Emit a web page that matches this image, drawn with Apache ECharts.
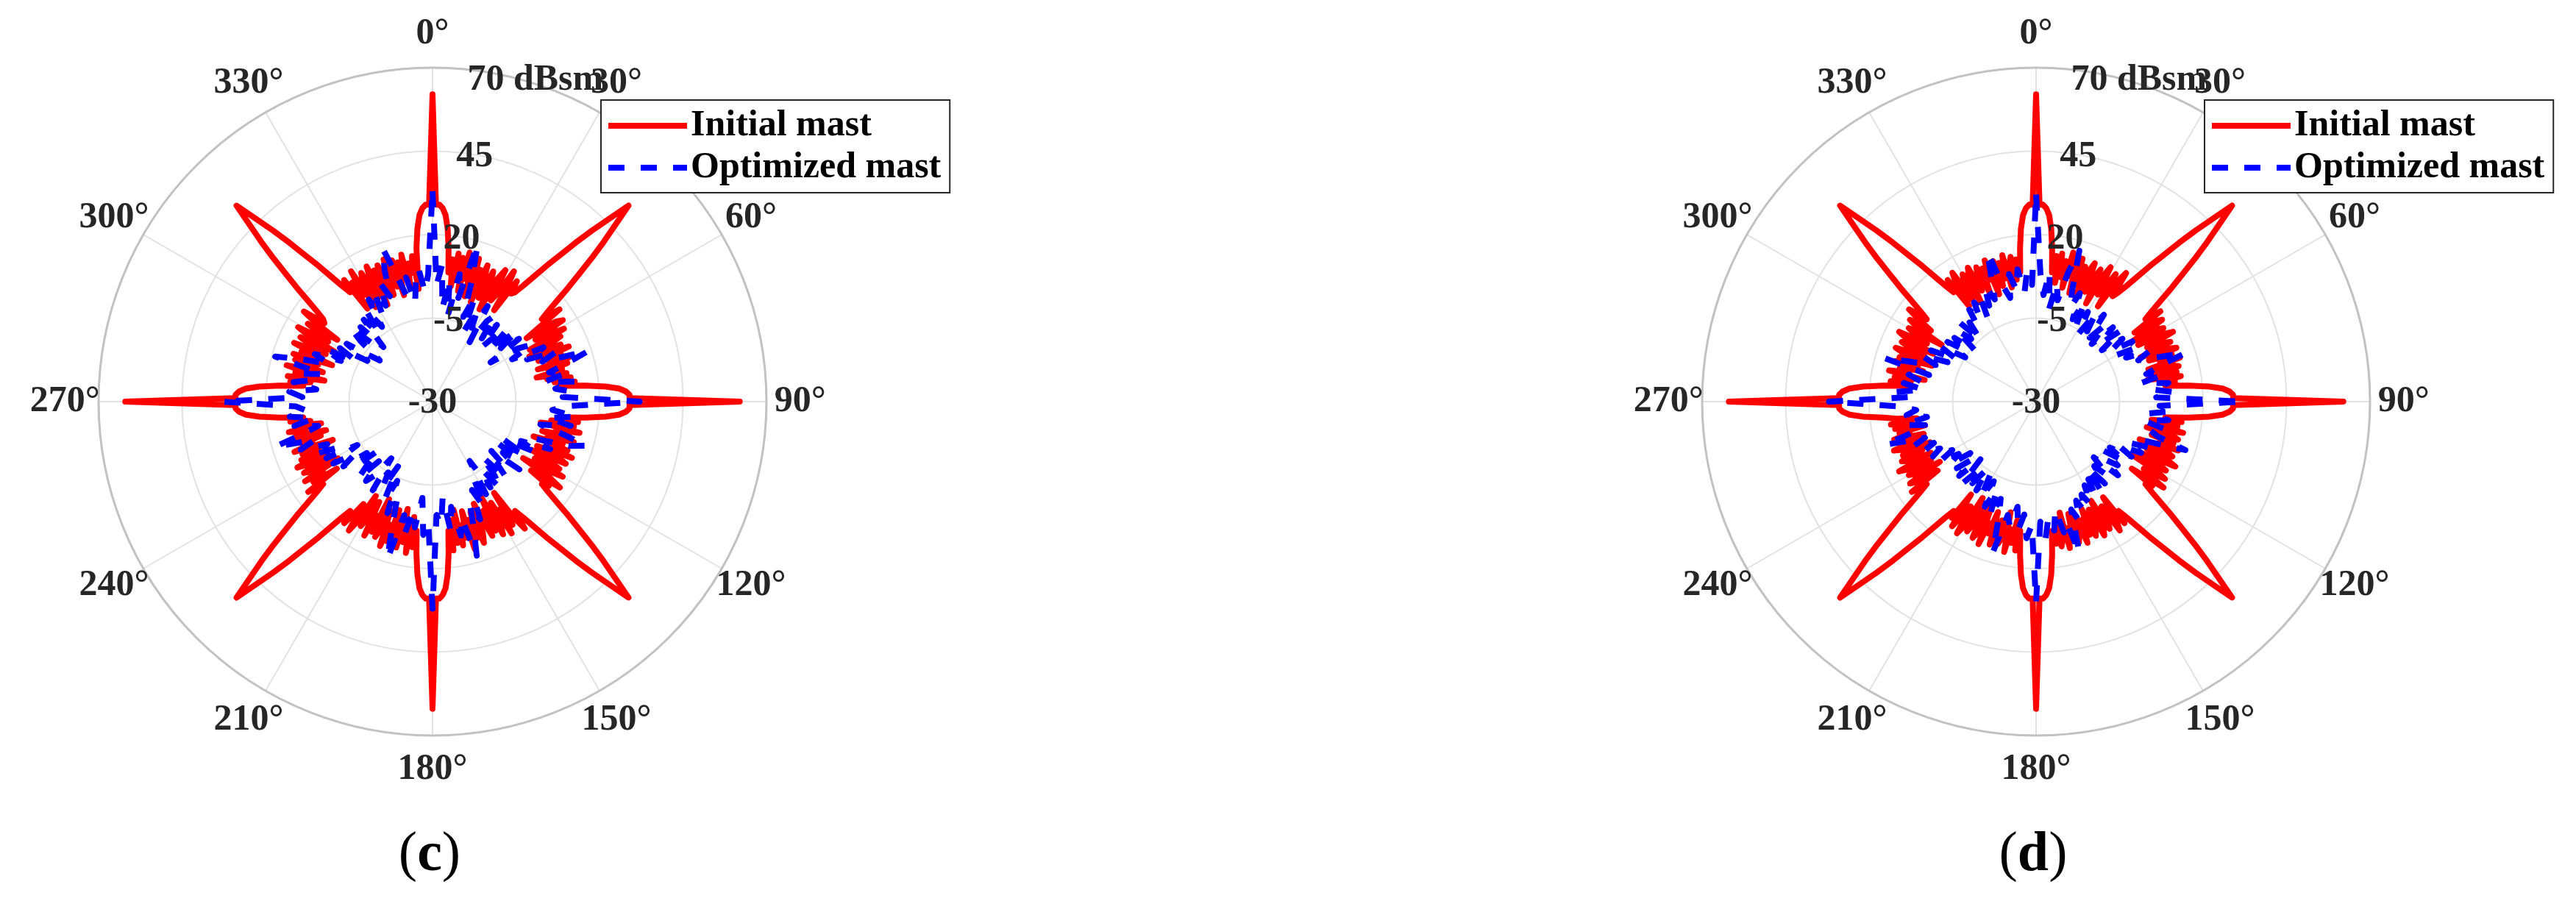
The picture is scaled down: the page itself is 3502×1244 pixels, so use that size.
<!DOCTYPE html>
<html><head><meta charset="utf-8">
<script src="https://cdn.jsdelivr.net/npm/echarts@6/dist/echarts.min.js"></script>
<style>html,body{margin:0;padding:0;background:#fff}#chart{width:3502px;height:1244px}</style>
</head><body><div id="chart"></div>
<script>
// ---------- tick labels / categories ----------
const angleTicks = [0, 30, 60, 90, 120, 150, 180, 210, 240, 270, 300, 330];
const angleTickLabels = ['0°','30°','60°','90°','120°','150°','180°','210°','240°','270°','300°','330°'];
const radiusTicks = [-30, -5, 20, 45, 70];
const radiusTickLabels = ['-30', '-5', '20', '45', '70 dBsm'];
const seriesNames = ['Initial mast', 'Optimized mast'];
const panelLabels = ['c', 'd'];

// ---------- data (dBsm). Initial mast: one value per 1° from 0°; Optimized mast: one value per 2° from 0° ----------
const initialC = [
62,29,29,28,26,22,16,9,13,5, 15,7,14,4,16,8,13,3,15,6, 12,2,14,9,4,13,10,1,12,15, 5,8,16,11,3,14,10,11,14,18,
23,28,34,40,46,53,46,40,34,28, 23,18,14,11,17,10,4,14,16,6, 11,15,3,13,9,2,12,6,14,4, 11,7,13,3,12,6,10,2,11,5,
12,7,13,9,16,22,26,28,29,29,
62,29,29,28,26,22,16,9,14,6, 13,3,15,8,12,4,14,6,11,2, 13,7,15,4,11,14,3,9,13,5, 15,10,2,12,16,6,13,11,14,18,
23,28,34,40,46,53,46,40,34,28, 23,18,14,11,17,12,3,14,8,16, 5,12,15,2,13,6,14,9,3,12, 15,5,13,7,16,4,12,8,14,3,
13,6,15,9,16,22,26,28,29,29,
62,29,29,28,26,22,16,9,14,5, 16,8,13,3,15,7,12,4,14,9, 16,5,11,14,2,13,8,15,4,10, 13,3,12,16,7,11,15,11,14,18,
23,28,34,40,46,53,46,40,34,28, 23,18,14,11,16,5,13,9,15,3, 12,14,6,11,15,4,13,7,12,2, 14,8,11,5,13,3,12,9,14,4,
11,7,13,9,16,22,26,28,29,29,
62,29,29,28,26,22,16,9,13,7, 14,3,12,9,15,4,11,13,6,14, 2,12,8,15,5,10,14,3,12,16, 6,9,14,4,12,17,10,11,14,18,
23,28,34,40,46,53,46,40,34,28, 23,18,14,11,15,4,13,8,16,3, 12,14,5,11,15,2,13,7,14,9, 4,15,11,6,14,3,13,8,15,5,
12,9,14,4,16,22,26,28,29,29
];
const optimizedC = [
33,5,11,-2,7,-4,9,2,19,8,-3,4,-7,1,-5,3,-9,-1,2,-6,0,-8,-2,1,-7,3,-4,2,-9,0,4,-3,7,1,10,5,19,12,6,11,4,13,7,12,9,
32,10,6,13,5,12,3,10,18,13,2,8,-1,5,-6,2,-8,1,-4,3,-7,0,-3,2,-8,-1,3,-5,1,-9,2,-3,5,-1,8,3,10,18,6,11,2,9,-1,7,4,
32,6,10,-1,8,3,11,5,19,9,1,6,-4,3,-8,0,-5,2,-9,-2,1,-6,2,-3,-8,0,-5,3,-2,5,-4,6,1,9,4,12,7,19,10,5,12,6,13,8,11,
33,9,13,5,12,7,10,4,19,11,3,8,0,6,-4,2,-7,1,-6,-10,-2,3,-5,1,-8,2,-4,4,-3,6,0,7,2,9,4,12,18,10,3,8,0,6,10,3,8
];
const initialD = [
62,29,29,28,26,22,16,9,14,6, 15,8,13,5,16,9,14,4,15,7, 13,3,12,15,6,11,14,3,12,16, 7,10,15,4,13,17,9,11,14,18,
23,28,34,40,46,53,46,40,34,28, 23,18,14,11,16,6,13,15,4,12, 14,5,13,16,7,11,14,4,12,15, 6,13,9,15,5,12,14,7,13,4,
14,8,12,9,16,22,26,28,29,29,
62,29,29,28,26,22,16,9,14,5, 13,8,15,4,12,14,6,13,9,15, 3,12,14,6,13,16,5,11,14,3, 12,15,8,10,16,5,13,11,14,18,
23,28,34,40,46,53,46,40,34,28, 23,18,14,11,15,5,13,16,7,12, 14,4,13,15,6,12,14,5,13,8, 15,6,12,14,5,13,9,15,4,12,
14,7,13,9,16,22,26,28,29,29,
62,29,29,28,26,22,16,9,15,6, 13,9,16,4,12,14,7,13,15,5, 12,9,16,4,13,15,6,11,14,3, 13,16,7,11,15,4,13,11,14,18,
23,28,34,40,46,53,46,40,34,28, 23,18,14,11,16,6,13,15,4,12, 14,6,13,16,5,12,14,7,13,4, 12,15,8,13,5,14,9,12,4,13,
8,14,6,12,16,22,26,28,29,29,
62,29,29,28,26,22,16,9,14,8, 13,4,15,9,12,5,14,7,13,3, 12,15,6,11,14,4,13,16,7,11, 14,3,12,15,8,13,17,11,14,18,
23,28,34,40,46,53,46,40,34,28, 23,18,14,11,15,5,13,16,6,12, 14,4,13,15,7,11,14,5,13,9, 15,4,12,14,6,13,8,15,5,12,
14,7,13,9,16,22,26,28,29,29
];
const optimizedD = [
32,8,2,9,-2,6,1,10,17,5,0,5,-3,3,-5,1,-6,2,-4,3,-5,1,-6,2,-4,3,-5,2,-3,4,-2,5,0,7,3,9,17,8,4,9,2,10,5,11,6,
32,7,11,4,10,3,9,5,8,17,4,7,0,5,-2,3,-4,2,-5,1,-3,3,-6,1,-4,2,-5,3,-2,4,-1,5,1,6,2,8,4,17,7,10,3,9,5,11,6,
30,7,11,4,9,2,8,5,17,6,1,7,-1,5,-3,3,-4,2,-5,1,-3,3,-6,2,-4,1,-5,2,-2,4,-1,5,2,7,3,9,5,17,8,4,10,3,9,6,11,
32,8,12,4,10,5,9,3,17,8,2,7,-1,5,-3,3,-5,2,-4,1,-6,2,-3,3,-5,1,-2,4,0,5,-1,6,2,8,3,9,17,6,2,9,4,10,3,9,5
];

// ---------- build ----------
const FONT = 'Liberation Serif';
const TICK_COLOR = '#262626';
const TICK_FONT = 'bold 50px "Liberation Serif"';
const polarCenters = [[588, 546], [2768, 546]];
const R = 454;
const ANGLE_LABEL_R = 80.1;   // radius value (dBsm scale) where the angle labels are centred
const RLABEL_ANGLE = 9;       // angle where the radial labels sit

function toPolar(vals, step) {
  const out = vals.map((v, i) => [v, i * step]);
  out.push([vals[0], 360]);
  return out;
}

function angleAxisFor(i) {
  return {
    polarIndex: i, type: 'value', min: 0, max: 360, interval: 30,
    startAngle: 90, clockwise: true,
    axisLine: {show: true, lineStyle: {color: '#c2c2c2', width: 3}},
    axisTick: {show: false}, axisLabel: {show: false},
    splitLine: {show: true, lineStyle: {color: '#e2e2e2', width: 2}}
  };
}
function radiusAxisFor(i) {
  return {
    polarIndex: i, type: 'value', min: radiusTicks[0], max: radiusTicks[radiusTicks.length - 1], interval: 25,
    axisLine: {show: false}, axisTick: {show: false}, axisLabel: {show: false},
    splitLine: {show: true, lineStyle: {color: '#e2e2e2', width: 2}}
  };
}
function textSeries(i, items) {
  return {
    type: 'custom', coordinateSystem: 'polar', polarIndex: i, silent: true, z: 10, clip: false,
    animation: false,
    data: items.map(it => [it.r, it.a]),
    renderItem: (params, api) => {
      const it = items[params.dataIndex];
      const p = api.coord([api.value(0), api.value(1)]);
      return {
        type: 'text', x: p[0] + (it.dx || 0), y: p[1] + (it.dy || 0),
        style: {text: it.text, fill: TICK_COLOR, font: TICK_FONT, align: it.align || 'center', verticalAlign: 'middle'}
      };
    }
  };
}
function angleLabelItems() {
  return angleTicks.map((a, k) => ({r: ANGLE_LABEL_R, a: a, text: angleTickLabels[k]}));
}
function radialLabelItems() {
  const last = radiusTicks.length - 1;
  return radiusTicks.map((t, k) => {
    if (k === 0) return {r: t, a: 0, text: radiusTickLabels[k], dx: 0, dy: 2};
    if (k === last) return {r: t, a: 6, text: radiusTickLabels[k], align: 'left', dx: 0, dy: 15};
    return {r: t, a: RLABEL_ANGLE, text: radiusTickLabels[k], dx: 4, dy: 3};
  });
}
function curveSeries(i, name, vals, step, color, dashed) {
  return {
    type: 'line', name: name, coordinateSystem: 'polar', polarIndex: i,
    data: toPolar(vals, step), showSymbol: false, symbol: 'none', animation: false,
    z: dashed ? 4 : 3,
    lineStyle: {color: color, width: 8, type: dashed ? [22, 22] : 'solid', join: 'round', cap: dashed ? 'butt' : 'round'},
    itemStyle: {color: color}
  };
}
function legendFor(left) {
  return {
    orient: 'vertical', left: left, top: 136,
    data: [
      {name: seriesNames[0], icon: 'path://M0,0H107V8H0Z'},
      {name: seriesNames[1], icon: 'path://M0,0H22V8H0ZM44,0H66V8H44ZM88,0H107V8H88Z'}
    ],
    itemWidth: 107, itemHeight: 8, itemGap: 7, padding: [10, 12, 9, 10],
    borderColor: '#262626', borderWidth: 2, backgroundColor: '#ffffff', borderRadius: 0,
    selectedMode: false,
    textStyle: {fontFamily: FONT, fontWeight: 'bold', fontSize: 50, color: '#000', lineHeight: 50}
  };
}

const option = {
  backgroundColor: '#ffffff',
  animation: false,
  polar: polarCenters.map(c => ({center: c, radius: R})),
  angleAxis: [angleAxisFor(0), angleAxisFor(1)],
  radiusAxis: [radiusAxisFor(0), radiusAxisFor(1)],
  legend: [legendFor(817), legendFor(2997)],
  series: [
    curveSeries(0, seriesNames[0], initialC, 1, '#ff0000', false),
    curveSeries(0, seriesNames[1], optimizedC, 2, '#0000ff', true),
    curveSeries(1, seriesNames[0], initialD, 1, '#ff0000', false),
    curveSeries(1, seriesNames[1], optimizedD, 2, '#0000ff', true),
    textSeries(0, angleLabelItems()), textSeries(1, angleLabelItems()),
    textSeries(0, radialLabelItems()), textSeries(1, radialLabelItems())
  ],
  graphic: polarCenters.map((c, k) => ({
    type: 'text', x: c[0] - 4, y: 1163, z: 100,
    style: {
      text: '{p|(}{b|' + panelLabels[k] + '}{p|)}', align: 'center', verticalAlign: 'middle',
      rich: {
        p: {fontFamily: FONT, fontSize: 76, fill: '#000'},
        b: {fontFamily: FONT, fontSize: 76, fontWeight: 'bold', fill: '#000'}
      }
    }
  }))
};

const chart = echarts.init(document.getElementById('chart'), null, {renderer: 'canvas'});
chart.setOption(option);
</script></body></html>
